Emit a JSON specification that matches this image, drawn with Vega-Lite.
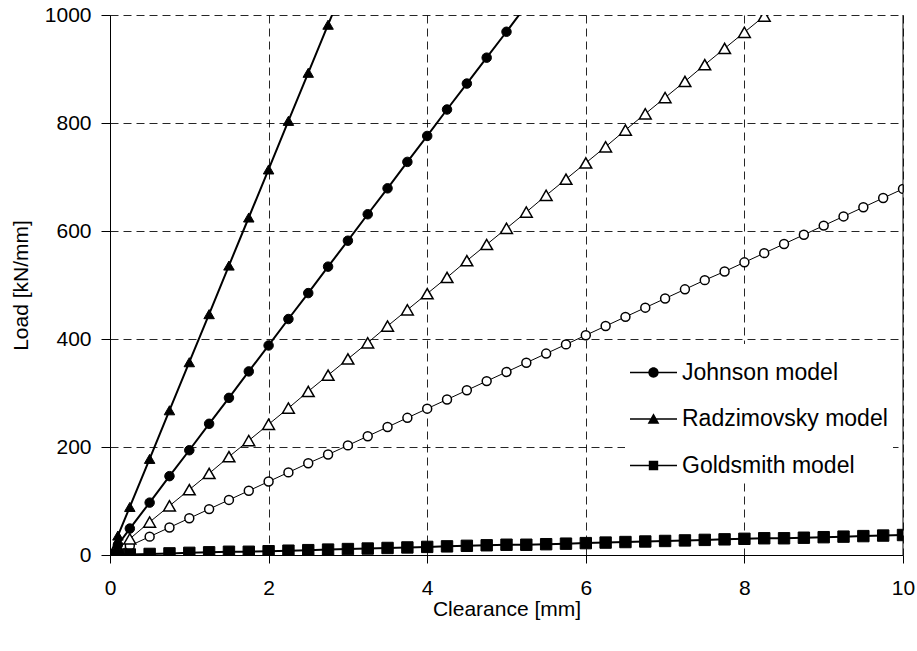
{
  "$schema": "https://vega.github.io/schema/vega-lite/v6.json",
  "width": 793,
  "height": 540,
  "autosize": {"type": "none"},
  "padding": {"left": 110, "top": 15, "right": 14, "bottom": 96},
  "background": "white",
  "config": {
    "font": "Liberation Sans",
    "view": {"stroke": null},
    "axis": {
      "domainColor": "black",
      "domainWidth": 1,
      "tickColor": "black",
      "tickWidth": 1,
      "gridColor": "black",
      "gridWidth": 1,
      "gridDash": [8, 5],
      "gridOpacity": 0.85,
      "labelColor": "black",
      "labelFontSize": 21,
      "titleColor": "black",
      "titleFontSize": 21,
      "titleFontWeight": "normal",
      "labelOverlap": false
    }
  },
  "datasets": {
    "filled": [
      {"s": "Johnson model", "x": 0, "y": 0},
      {"s": "Johnson model", "x": 0.1, "y": 19},
      {"s": "Johnson model", "x": 0.25, "y": 49},
      {"s": "Johnson model", "x": 0.5, "y": 97},
      {"s": "Johnson model", "x": 0.75, "y": 146},
      {"s": "Johnson model", "x": 1, "y": 194},
      {"s": "Johnson model", "x": 1.25, "y": 243},
      {"s": "Johnson model", "x": 1.5, "y": 291},
      {"s": "Johnson model", "x": 1.75, "y": 340},
      {"s": "Johnson model", "x": 2, "y": 388},
      {"s": "Johnson model", "x": 2.25, "y": 437},
      {"s": "Johnson model", "x": 2.5, "y": 485},
      {"s": "Johnson model", "x": 2.75, "y": 534},
      {"s": "Johnson model", "x": 3, "y": 582},
      {"s": "Johnson model", "x": 3.25, "y": 631},
      {"s": "Johnson model", "x": 3.5, "y": 679},
      {"s": "Johnson model", "x": 3.75, "y": 728},
      {"s": "Johnson model", "x": 4, "y": 776},
      {"s": "Johnson model", "x": 4.25, "y": 825},
      {"s": "Johnson model", "x": 4.5, "y": 873},
      {"s": "Johnson model", "x": 4.75, "y": 921},
      {"s": "Johnson model", "x": 5, "y": 969},
      {"s": "Johnson model", "x": 5.25, "y": 1018},
      {"s": "Radzimovsky model", "x": 0, "y": 0},
      {"s": "Radzimovsky model", "x": 0.1, "y": 36},
      {"s": "Radzimovsky model", "x": 0.25, "y": 89},
      {"s": "Radzimovsky model", "x": 0.5, "y": 178},
      {"s": "Radzimovsky model", "x": 0.75, "y": 268},
      {"s": "Radzimovsky model", "x": 1, "y": 357},
      {"s": "Radzimovsky model", "x": 1.25, "y": 446},
      {"s": "Radzimovsky model", "x": 1.5, "y": 536},
      {"s": "Radzimovsky model", "x": 1.75, "y": 625},
      {"s": "Radzimovsky model", "x": 2, "y": 714},
      {"s": "Radzimovsky model", "x": 2.25, "y": 804},
      {"s": "Radzimovsky model", "x": 2.5, "y": 893},
      {"s": "Radzimovsky model", "x": 2.75, "y": 982},
      {"s": "Radzimovsky model", "x": 3, "y": 1071},
      {"s": "Goldsmith model", "x": 0, "y": 0},
      {"s": "Goldsmith model", "x": 0.1, "y": 0.4},
      {"s": "Goldsmith model", "x": 0.25, "y": 1},
      {"s": "Goldsmith model", "x": 0.5, "y": 2},
      {"s": "Goldsmith model", "x": 0.75, "y": 3},
      {"s": "Goldsmith model", "x": 1, "y": 4},
      {"s": "Goldsmith model", "x": 1.25, "y": 5},
      {"s": "Goldsmith model", "x": 1.5, "y": 6},
      {"s": "Goldsmith model", "x": 1.75, "y": 6},
      {"s": "Goldsmith model", "x": 2, "y": 7},
      {"s": "Goldsmith model", "x": 2.25, "y": 8},
      {"s": "Goldsmith model", "x": 2.5, "y": 9},
      {"s": "Goldsmith model", "x": 2.75, "y": 10},
      {"s": "Goldsmith model", "x": 3, "y": 11},
      {"s": "Goldsmith model", "x": 3.25, "y": 12},
      {"s": "Goldsmith model", "x": 3.5, "y": 13},
      {"s": "Goldsmith model", "x": 3.75, "y": 14},
      {"s": "Goldsmith model", "x": 4, "y": 15},
      {"s": "Goldsmith model", "x": 4.25, "y": 16},
      {"s": "Goldsmith model", "x": 4.5, "y": 17},
      {"s": "Goldsmith model", "x": 4.75, "y": 18},
      {"s": "Goldsmith model", "x": 5, "y": 19},
      {"s": "Goldsmith model", "x": 5.25, "y": 19},
      {"s": "Goldsmith model", "x": 5.5, "y": 20},
      {"s": "Goldsmith model", "x": 5.75, "y": 21},
      {"s": "Goldsmith model", "x": 6, "y": 22},
      {"s": "Goldsmith model", "x": 6.25, "y": 23},
      {"s": "Goldsmith model", "x": 6.5, "y": 24},
      {"s": "Goldsmith model", "x": 6.75, "y": 25},
      {"s": "Goldsmith model", "x": 7, "y": 26},
      {"s": "Goldsmith model", "x": 7.25, "y": 27},
      {"s": "Goldsmith model", "x": 7.5, "y": 28},
      {"s": "Goldsmith model", "x": 7.75, "y": 29},
      {"s": "Goldsmith model", "x": 8, "y": 30},
      {"s": "Goldsmith model", "x": 8.25, "y": 31},
      {"s": "Goldsmith model", "x": 8.5, "y": 31},
      {"s": "Goldsmith model", "x": 8.75, "y": 32},
      {"s": "Goldsmith model", "x": 9, "y": 33},
      {"s": "Goldsmith model", "x": 9.25, "y": 34},
      {"s": "Goldsmith model", "x": 9.5, "y": 35},
      {"s": "Goldsmith model", "x": 9.75, "y": 36},
      {"s": "Goldsmith model", "x": 10, "y": 37}
    ],
    "opentri": [
      {"x": 0, "y": 0}, {"x": 0.1, "y": 12}, {"x": 0.25, "y": 30}, {"x": 0.5, "y": 61},
      {"x": 0.75, "y": 91}, {"x": 1, "y": 121}, {"x": 1.25, "y": 151}, {"x": 1.5, "y": 182},
      {"x": 1.75, "y": 212}, {"x": 2, "y": 242}, {"x": 2.25, "y": 272}, {"x": 2.5, "y": 303},
      {"x": 2.75, "y": 333}, {"x": 3, "y": 363}, {"x": 3.25, "y": 393}, {"x": 3.5, "y": 424},
      {"x": 3.75, "y": 454}, {"x": 4, "y": 484}, {"x": 4.25, "y": 514}, {"x": 4.5, "y": 545},
      {"x": 4.75, "y": 575}, {"x": 5, "y": 605}, {"x": 5.25, "y": 635}, {"x": 5.5, "y": 666},
      {"x": 5.75, "y": 696}, {"x": 6, "y": 726}, {"x": 6.25, "y": 756}, {"x": 6.5, "y": 787},
      {"x": 6.75, "y": 817}, {"x": 7, "y": 847}, {"x": 7.25, "y": 877}, {"x": 7.5, "y": 908},
      {"x": 7.75, "y": 938}, {"x": 8, "y": 968}, {"x": 8.25, "y": 998}, {"x": 8.5, "y": 1029}
    ],
    "opencirc": [
      {"x": 0, "y": 0}, {"x": 0.1, "y": 7}, {"x": 0.25, "y": 17}, {"x": 0.5, "y": 34},
      {"x": 0.75, "y": 51}, {"x": 1, "y": 68}, {"x": 1.25, "y": 85}, {"x": 1.5, "y": 102},
      {"x": 1.75, "y": 119}, {"x": 2, "y": 136}, {"x": 2.25, "y": 153}, {"x": 2.5, "y": 170},
      {"x": 2.75, "y": 186}, {"x": 3, "y": 203}, {"x": 3.25, "y": 220}, {"x": 3.5, "y": 237},
      {"x": 3.75, "y": 254}, {"x": 4, "y": 271}, {"x": 4.25, "y": 288}, {"x": 4.5, "y": 305},
      {"x": 4.75, "y": 322}, {"x": 5, "y": 339}, {"x": 5.25, "y": 356}, {"x": 5.5, "y": 373},
      {"x": 5.75, "y": 390}, {"x": 6, "y": 407}, {"x": 6.25, "y": 424}, {"x": 6.5, "y": 441},
      {"x": 6.75, "y": 458}, {"x": 7, "y": 475}, {"x": 7.25, "y": 492}, {"x": 7.5, "y": 509},
      {"x": 7.75, "y": 525}, {"x": 8, "y": 542}, {"x": 8.25, "y": 559}, {"x": 8.5, "y": 576},
      {"x": 8.75, "y": 593}, {"x": 9, "y": 610}, {"x": 9.25, "y": 627}, {"x": 9.5, "y": 644},
      {"x": 9.75, "y": 661}, {"x": 10, "y": 678}
    ]
  },
  "resolve": {"scale": {"shape": "independent"}, "legend": {"shape": "independent"}},
  "layer": [
    {
      "data": {"name": "opencirc"},
      "mark": {"type": "line", "color": "black", "strokeWidth": 1, "clip": true},
      "encoding": {
        "x": {
          "field": "x", "type": "quantitative",
          "scale": {"domain": [0, 10], "nice": false},
          "axis": {
            "values": [0, 2, 4, 6, 8, 10],
            "format": "d",
            "title": "Clearance [mm]",
            "tickSize": 8,
            "labelPadding": 14,
            "titlePadding": 0,
            "labelFlush": false,
            "grid": true
          }
        },
        "y": {
          "field": "y", "type": "quantitative",
          "scale": {"domain": [0, 1000], "nice": false},
          "axis": {
            "values": [0, 200, 400, 600, 800, 1000],
            "format": "d",
            "title": "Load [kN/mm]",
            "tickSize": 9,
            "labelPadding": 10,
            "titlePadding": 13,
            "grid": true
          }
        }
      }
    },
    {
      "data": {"name": "opentri"},
      "mark": {"type": "line", "color": "black", "strokeWidth": 1, "clip": true},
      "encoding": {
        "x": {"field": "x", "type": "quantitative", "scale": {"domain": [0, 10], "nice": false}},
        "y": {"field": "y", "type": "quantitative", "scale": {"domain": [0, 1000], "nice": false}}
      }
    },
    {
      "data": {"name": "filled"},
      "mark": {"type": "line", "color": "black", "strokeWidth": 2, "clip": true},
      "encoding": {
        "x": {"field": "x", "type": "quantitative", "scale": {"domain": [0, 10], "nice": false}},
        "y": {"field": "y", "type": "quantitative", "scale": {"domain": [0, 1000], "nice": false}},
        "detail": {"field": "s"}
      }
    },
    {
      "data": {"name": "opencirc"},
      "mark": {"type": "point", "shape": "circle", "filled": true, "fill": "white", "stroke": "black", "strokeWidth": 1.5, "size": 80, "opacity": 1, "clip": true},
      "encoding": {
        "x": {"field": "x", "type": "quantitative", "scale": {"domain": [0, 10], "nice": false}},
        "y": {"field": "y", "type": "quantitative", "scale": {"domain": [0, 1000], "nice": false}}
      }
    },
    {
      "data": {"name": "opentri"},
      "mark": {"type": "point", "shape": "triangle-up", "filled": true, "fill": "white", "stroke": "black", "strokeWidth": 1.5, "size": 140, "opacity": 1, "clip": true},
      "encoding": {
        "x": {"field": "x", "type": "quantitative", "scale": {"domain": [0, 10], "nice": false}},
        "y": {"field": "y", "type": "quantitative", "scale": {"domain": [0, 1000], "nice": false}}
      }
    },
    {
      "data": {"name": "filled"},
      "mark": {"type": "point", "filled": true, "fill": "black", "stroke": "black", "strokeWidth": 1, "opacity": 1, "clip": true},
      "encoding": {
        "x": {"field": "x", "type": "quantitative", "scale": {"domain": [0, 10], "nice": false}},
        "y": {"field": "y", "type": "quantitative", "scale": {"domain": [0, 1000], "nice": false}},
        "shape": {
          "field": "s", "type": "nominal",
          "scale": {
            "domain": ["Johnson model", "Radzimovsky model", "Goldsmith model"],
            "range": ["circle", "triangle-up", "square"]
          },
          "legend": null
        },
        "size": {
          "field": "s", "type": "nominal",
          "scale": {
            "domain": ["Johnson model", "Radzimovsky model", "Goldsmith model"],
            "range": [90, 130, 75]
          },
          "legend": null
        }
      }
    },
    {
      "data": {"name": "filled"},
      "transform": [{"filter": "datum.y > 100000"}],
      "mark": {"type": "point", "filled": true, "color": "black", "opacity": 1},
      "encoding": {
        "x": {"field": "x", "type": "quantitative", "scale": {"domain": [0, 10], "nice": false}},
        "y": {"field": "y", "type": "quantitative", "scale": {"domain": [0, 1000], "nice": false}},
        "shape": {
          "field": "s", "type": "nominal",
          "scale": {
            "domain": ["Johnson model", "Radzimovsky model", "Goldsmith model"],
            "range": [
              "M-1,-0.035H1V0.035H-1ZM0.22,0A0.22,0.22,0,1,1,-0.22,0A0.22,0.22,0,1,1,0.22,0Z",
              "M-1,-0.035H1V0.035H-1ZM0,-0.25L0.25,0.2L-0.25,0.2Z",
              "M-1,-0.035H1V0.035H-1ZM-0.2,-0.2H0.2V0.2H-0.2Z"
            ]
          },
          "legend": {
            "title": null,
            "orient": "none",
            "legendX": 515,
            "legendY": 329,
            "padding": 5,
            "fillColor": "white",
            "strokeColor": null,
            "rowPadding": 10.5,
            "symbolSize": 2209,
            "symbolStrokeWidth": 0,
            "symbolFillColor": "black",
            "labelOffset": 5,
            "labelLimit": 400,
            "labelFontSize": 23,
            "labelColor": "black",
            "labelFont": "Liberation Sans"
          }
        }
      }
    },
    {
      "data": {"values": [{"x": 10}]},
      "mark": {"type": "rule", "color": "black", "strokeWidth": 1},
      "encoding": {
        "x": {"field": "x", "type": "quantitative", "scale": {"domain": [0, 10], "nice": false}}
      }
    }
  ]
}
